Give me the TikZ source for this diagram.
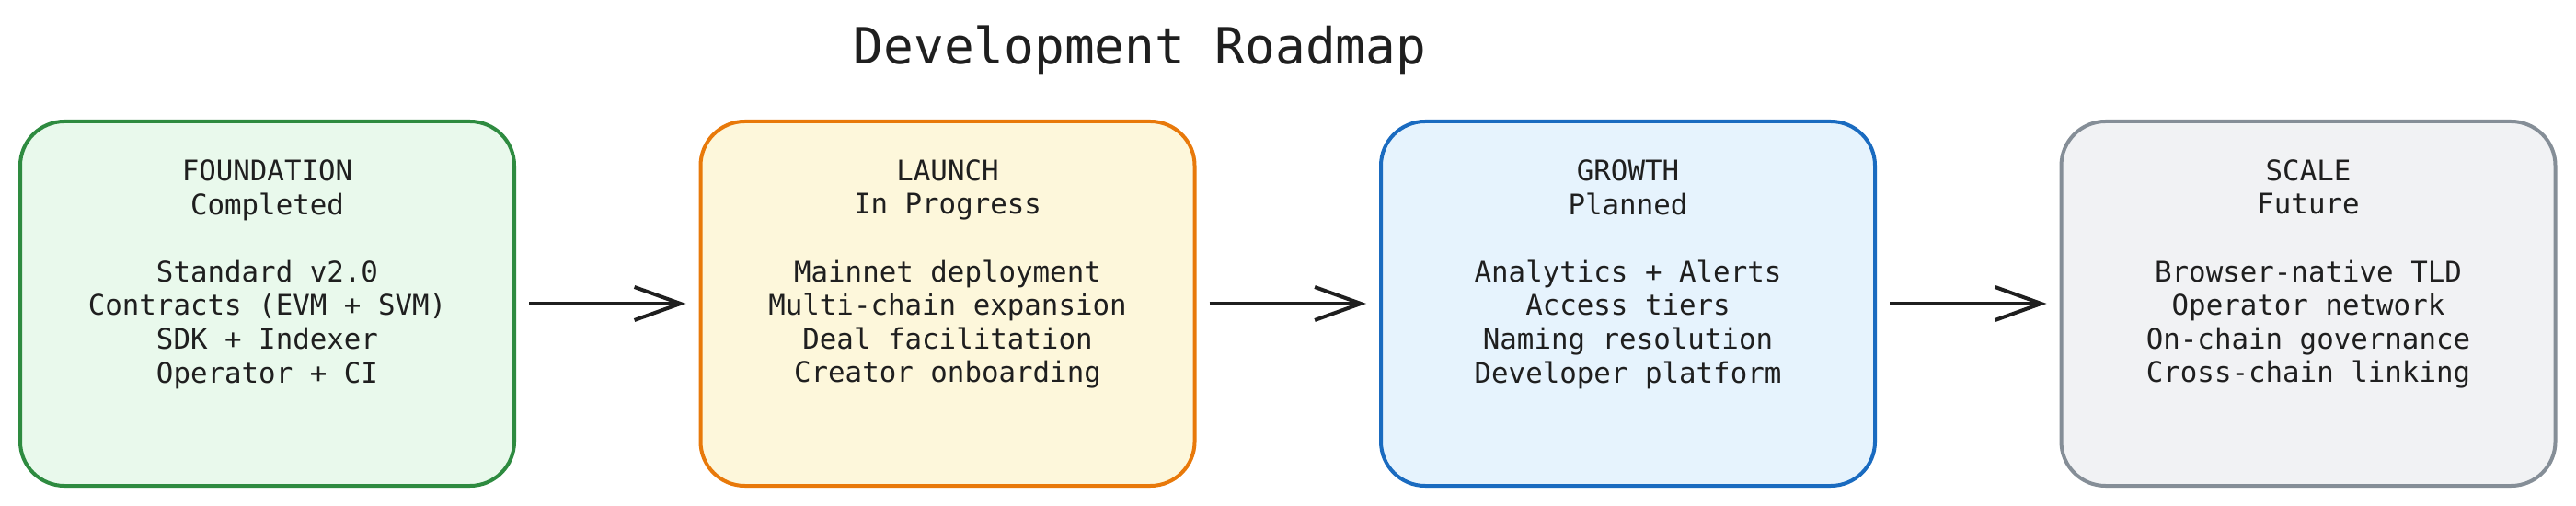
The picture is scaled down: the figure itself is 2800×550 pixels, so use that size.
\documentclass[tikz,border=0pt]{standalone}
\usepackage{fontspec}
\setmonofont{DejaVu Sans Mono}
\usetikzlibrary{positioning,arrows.meta}

\definecolor{ink}{HTML}{1F1F1F}
\definecolor{foundline}{HTML}{2E8B40}
\definecolor{foundfill}{HTML}{E9F9EC}
\definecolor{launchline}{HTML}{E8790A}
\definecolor{launchfill}{HTML}{FDF7DB}
\definecolor{growline}{HTML}{1A6BC0}
\definecolor{growfill}{HTML}{E6F3FD}
\definecolor{scaleline}{HTML}{858E97}
\definecolor{scalefill}{HTML}{F1F2F4}

\begin{document}
\begin{tikzpicture}[x=0.5pt,y=-0.5pt,
    phase/.style={draw, line width=2pt, rounded corners=24pt,
        minimum width=268.5pt, minimum height=198pt},
    phasetext/.style={text=ink, align=center,
        font=\ttfamily\fontsize{15.4}{18.3}\selectfont},
    flow/.style={draw=ink, line width=2pt,
        -{Straight Barb[length=25pt,width=18pt,line width=2pt]},
        shorten <=7pt, shorten >=7pt}]
    \useasboundingbox (0,0) rectangle (2800,550);

    % title
    \node[text=ink, font=\ttfamily\fontsize{27.2}{32}\selectfont] (title) at (1239,54) {Development Roadmap};

    % phase boxes
    \node[phase, draw=foundline, fill=foundfill] (found) at (290.5,330) {};
    \node[phase, draw=launchline, fill=launchfill, right=99.25pt of found] (launch) {};
    \node[phase, draw=growline, fill=growfill, right=99.25pt of launch] (grow) {};
    \node[phase, draw=scaleline, fill=scalefill, right=99.25pt of grow] (scale) {};

    % box contents
    \node[phasetext] (foundtxt) at ([yshift=16pt]found.center)
        {FOUNDATION\\Completed\\[18.3pt]Standard v2.0\\Contracts (EVM + SVM)\\SDK + Indexer\\Operator + CI};
    \node[phasetext] (launchtxt) at ([yshift=16pt]launch.center)
        {LAUNCH\\In Progress\\[18.3pt]Mainnet deployment\\Multi-chain expansion\\Deal facilitation\\Creator onboarding};
    \node[phasetext] (growtxt) at ([yshift=16pt]grow.center)
        {GROWTH\\Planned\\[18.3pt]Analytics + Alerts\\Access tiers\\Naming resolution\\Developer platform};
    \node[phasetext] (scaletxt) at ([yshift=16pt]scale.center)
        {SCALE\\Future\\[18.3pt]Browser-native TLD\\Operator network\\On-chain governance\\Cross-chain linking};

    % arrows
    \draw[flow] (found) -- (launch);
    \draw[flow] (launch) -- (grow);
    \draw[flow] (grow) -- (scale);
\end{tikzpicture}
\end{document}
